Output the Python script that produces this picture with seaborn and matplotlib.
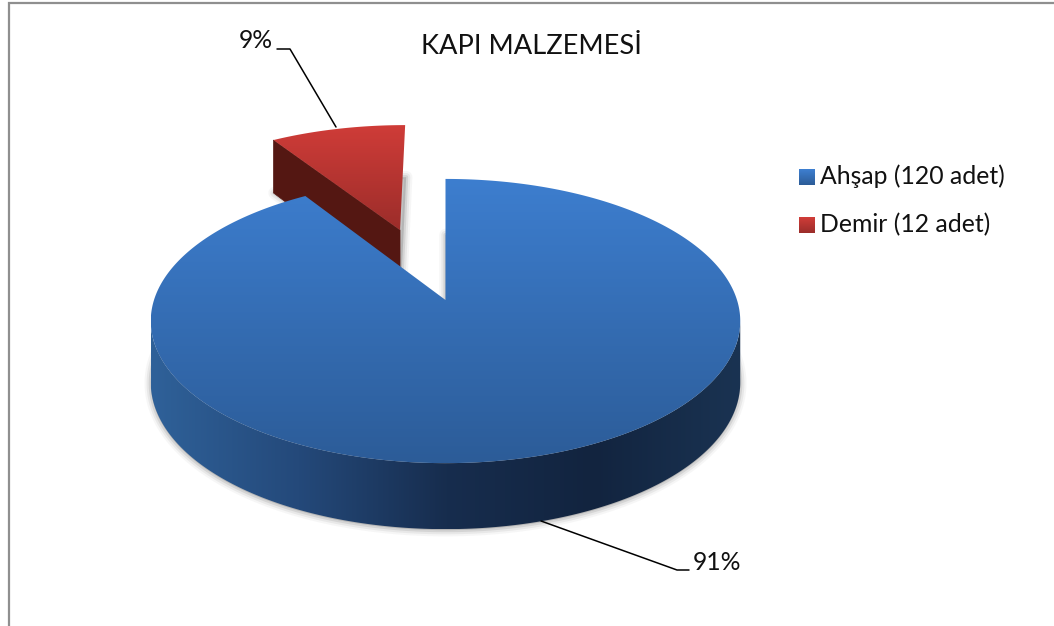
import numpy as np
import seaborn as sns
import matplotlib
matplotlib.use("Agg")
import matplotlib.pyplot as plt
from matplotlib.legend_handler import HandlerBase
from matplotlib.patches import Patch, Polygon, Rectangle

# data
title = "KAPI MALZEMESİ"
materials = ["Ahşap", "Demir"]
counts = [120, 12]
explode = [0, 0.558]

# colours
blue_top = ["#3d7ecf", "#2c5c98"]
blue_side = ["#2f6199", "#24497a", "#172d4e", "#12243f", "#1a3352"]
red_top = ["#cf3c38", "#9c2d2a"]
red_side = "#541712"
frame_color = "#8f8f8f"

sns.set_theme(style="white")
plt.rcParams["font.family"] = ["Lato", "DejaVu Sans"]

fig = plt.figure(figsize=(10.54, 6.26), dpi=100, facecolor="white")
ax = fig.add_axes([0, 0, 1, 1])

# the pie gives the angles and the exploded centres, then they get a 3D look
wedges, _ = ax.pie(counts, explode=explode, startangle=90, counterclock=False)
for w in wedges:
    w.set_visible(False)
ax.set_aspect("auto")
ax.set_xlim(0, 1054)
ax.set_ylim(626, 0)
ax.set_axis_off()

# perspective of the tilted disc, in pixels
cx, cy = 445.5, 300
scale_x, scale_y, tilt = 291.5, 139, 0.148
red_nudge = np.array([-3, -1])


def project(u, v):
    d = 1 + tilt * v
    return np.column_stack([cx + scale_x * u / d, cy - scale_y * v / d])


def depth(v):
    return 60.5 - 5.5 * v


def arc(w):
    t = np.radians(np.linspace(w.theta1, w.theta2, 600))
    return w.center[0] + w.r * np.cos(t), w.center[1] + w.r * np.sin(t)


def top_face(w):
    u, v = arc(w)
    rim = project(u, v)
    apex = project(np.array([w.center[0]]), np.array([w.center[1]]))
    return np.vstack([apex, rim]), apex[0], depth(w.center[1])


def gradient(verts, colors, horizontal=False, z=3):
    cmap = sns.blend_palette(colors, as_cmap=True)
    x0, y0 = verts.min(axis=0)
    x1, y1 = verts.max(axis=0)
    ramp = np.linspace(0, 1, 256)
    ramp = ramp[None, :] if horizontal else ramp[:, None]
    im = ax.imshow(ramp, cmap=cmap, extent=[x0, x1, y1, y0], aspect="auto",
                   origin="upper", zorder=z, interpolation="bilinear")
    im.set_clip_path(Polygon(verts, closed=True, transform=ax.transData))


def shadow(verts):
    for lw, a in [(9, 0.05), (6, 0.09), (3, 0.14)]:
        ax.add_patch(Polygon(verts, closed=True, fc="#606060", ec="#606060", lw=lw,
                             alpha=a, joinstyle="round", zorder=1))


blue, red = wedges

# red slice, lies behind the blue one
red_face, red_apex, red_d = top_face(red)
red_face = red_face + red_nudge
red_apex = red_apex + red_nudge
u, v = arc(red)
red_edge = project(u, v)[-1] + red_nudge  # rim point on the side facing the viewer
edge_d = depth(v[-1])
low_face = red_face + np.column_stack([np.zeros(len(red_face)), depth(np.r_[red.center[1], v])])
shadow(low_face + [1, 0])
ax.add_patch(Polygon([red_apex, red_edge, red_edge + [0, edge_d], red_apex + [0, red_d]],
                     closed=True, fc=red_side, ec=red_side, lw=0.5, zorder=2))
gradient(red_face, red_top, z=3)

# blue slice, only the front of the wall between the left and right extremes is seen
blue_face, blue_apex, blue_d = top_face(blue)
u, v = arc(blue)
rim = project(u, v)
low_rim = rim + np.column_stack([np.zeros(len(rim)), depth(v)])
shadow(blue_face + np.column_stack([np.zeros(len(blue_face)), depth(np.r_[blue.center[1], v]) + 1]))
i0, i1 = rim[:, 0].argmin(), rim[:, 0].argmax()
gradient(np.vstack([rim[i0:i1 + 1], low_rim[i0:i1 + 1][::-1]]), blue_side, horizontal=True, z=4)
gradient(blue_face, blue_top, z=5)

# outer frame of the chart
ax.plot([8.5, 8.5, 1054], [626, 2.5, 2.5], color=frame_color, lw=1.6, zorder=1,
        solid_joinstyle="miter")

# title and percentages
total = sum(counts)
ax.text(531, 46, title, ha="center", va="center", fontsize=19.6, color="#111111", zorder=6)
ax.text(273, 41, f"{counts[1] / total * 100:.0f}%", ha="right", va="center", fontsize=17.8,
        color="#111111", zorder=6)
ax.text(693, 563, f"{counts[0] / total * 100:.0f}%", ha="left", va="center", fontsize=17.8,
        color="#111111", zorder=6)
ax.plot([277, 290, 336], [49, 49, 127], color="black", lw=1.1, zorder=6)
ax.plot([541, 677, 689], [521, 570, 570], color="black", lw=1.1, zorder=6)


# legend keys with the same vertical gradient as the slices
class GradientKey(HandlerBase):
    def create_artists(self, legend, orig_handle, xdescent, ydescent, width, height, fontsize, trans):
        colors = sns.blend_palette(orig_handle.colors, 16)
        side = 11.5
        step = side / len(colors)
        return [Rectangle((0, side - (i + 1) * step - 1), side, step + 0.2, fc=c, ec="none",
                          transform=trans) for i, c in enumerate(colors)]


class KeyPatch(Patch):
    def __init__(self, colors, **kw):
        super().__init__(**kw)
        self.colors = colors


handles = [KeyPatch(blue_top), KeyPatch(red_top)]
labels = [f"{m} ({c} adet)" for m, c in zip(materials, counts)]
ax.legend(handles, labels, handler_map={KeyPatch: GradientKey()}, loc="upper left",
          bbox_to_anchor=(799 / 1054, 1 - 164 / 626), frameon=False, fontsize=17.8,
          labelspacing=1.02, handlelength=0.75, handletextpad=0.1, borderpad=0,
          borderaxespad=0, labelcolor="#111111")

fig.savefig("out.png", dpi=100, facecolor="white")
